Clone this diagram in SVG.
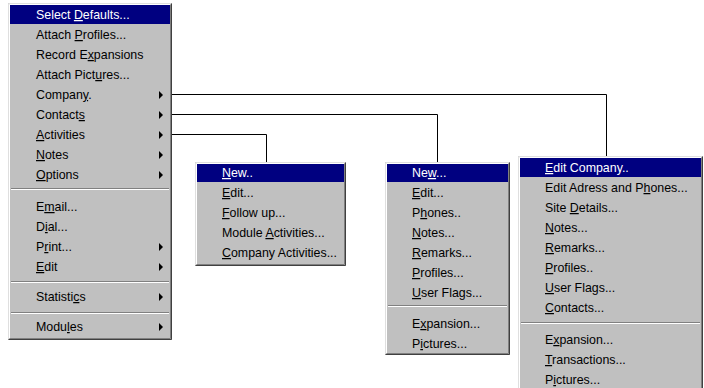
<svg xmlns="http://www.w3.org/2000/svg" width="704" height="388" viewBox="0 0 704 388">
<style>
.bg{fill:#c0c0c0}
.hl{fill:#000080}
.t{font-family:"Liberation Sans",Arial,sans-serif;font-size:12.4px;fill:#000}
.w{fill:#fff}
.u{text-decoration:underline}
.lt{stroke:#ffffff;stroke-width:1;fill:none}
.lt2{stroke:#dfdfdf;stroke-width:1;fill:none}
.dk{stroke:#808080;stroke-width:1;fill:none}
.bk{stroke:#404040;stroke-width:1;fill:none}
.conn{stroke:#000;stroke-width:1;fill:none}
.arr{fill:#000}
</style>
<rect width="704" height="388" fill="#fff"/>
<g id="connectors">
<polyline class="conn" points="172,94.5 606.5,94.5 606.5,156"/>
<polyline class="conn" points="172,114.5 437.5,114.5 437.5,162"/>
<polyline class="conn" points="172,134.5 266.5,134.5 266.5,162"/>
</g>
<g id="main-menu">
<rect class="bg" x="8" y="3" width="164" height="337"/>
<path class="lt2" d="M8.5,339.5 V3.5 H171.5"/>
<path class="lt" d="M9.5,338.5 V4.5 H170.5"/>
<path class="dk" d="M9.5,338.5 H170.5 V4.5"/>
<path class="bk" d="M8.5,339.5 H171.5 V3.5"/>
<rect class="hl" x="10" y="5" width="160" height="19"/>
<text class="t w" x="36" y="19">Select <tspan class="u">D</tspan>efaults...</text>
<text class="t" x="36" y="39">Attach <tspan class="u">P</tspan>rofiles...</text>
<text class="t" x="36" y="59">Record E<tspan class="u">x</tspan>pansions</text>
<text class="t" x="36" y="79">Attach Pict<tspan class="u">u</tspan>res...</text>
<text class="t" x="36" y="99">Compan<tspan class="u">y</tspan>.</text>
<text class="t" x="36" y="119">Contact<tspan class="u">s</tspan></text>
<text class="t" x="36" y="139"><tspan class="u">A</tspan>ctivities</text>
<text class="t" x="36" y="159"><tspan class="u">N</tspan>otes</text>
<text class="t" x="36" y="179"><tspan class="u">O</tspan>ptions</text>
<line class="dk" x1="11" y1="188.5" x2="169" y2="188.5"/>
<line class="lt" x1="11" y1="189.5" x2="169" y2="189.5"/>
<text class="t" x="36" y="211">E<tspan class="u">m</tspan>ail...</text>
<text class="t" x="36" y="231">D<tspan class="u">i</tspan>al...</text>
<text class="t" x="36" y="251">P<tspan class="u">r</tspan>int...</text>
<text class="t" x="36" y="271"><tspan class="u">E</tspan>dit</text>
<line class="dk" x1="11" y1="281.5" x2="169" y2="281.5"/>
<line class="lt" x1="11" y1="282.5" x2="169" y2="282.5"/>
<text class="t" x="36" y="301">Statisti<tspan class="u">c</tspan>s</text>
<line class="dk" x1="11" y1="312.5" x2="169" y2="312.5"/>
<line class="lt" x1="11" y1="313.5" x2="169" y2="313.5"/>
<text class="t" x="36" y="331">Modu<tspan class="u">l</tspan>es</text>
<path class="arr" d="M159,91 L163,95 L159,99 Z"/>
<path class="arr" d="M159,111 L163,115 L159,119 Z"/>
<path class="arr" d="M159,131 L163,135 L159,139 Z"/>
<path class="arr" d="M159,151 L163,155 L159,159 Z"/>
<path class="arr" d="M159,171 L163,175 L159,179 Z"/>
<path class="arr" d="M159,243 L163,247 L159,251 Z"/>
<path class="arr" d="M159,263 L163,267 L159,271 Z"/>
<path class="arr" d="M159,293 L163,297 L159,301 Z"/>
<path class="arr" d="M159,323 L163,327 L159,331 Z"/>
</g>
<g id="activities-menu">
<rect class="bg" x="195" y="162" width="151" height="104"/>
<path class="lt2" d="M195.5,265.5 V162.5 H345.5"/>
<path class="lt" d="M196.5,264.5 V163.5 H344.5"/>
<path class="dk" d="M196.5,264.5 H344.5 V163.5"/>
<path class="bk" d="M195.5,265.5 H345.5 V162.5"/>
<rect class="hl" x="197" y="164" width="147" height="18"/>
<text class="t w" x="222" y="177"><tspan class="u">N</tspan>ew..</text>
<text class="t" x="222" y="197"><tspan class="u">E</tspan>dit...</text>
<text class="t" x="222" y="217"><tspan class="u">F</tspan>ollow up...</text>
<text class="t" x="222" y="237">Module <tspan class="u">A</tspan>ctivities...</text>
<text class="t" x="222" y="257"><tspan class="u">C</tspan>ompany Activities...</text>
</g>
<g id="contacts-menu">
<rect class="bg" x="385" y="162" width="125" height="193"/>
<path class="lt2" d="M385.5,354.5 V162.5 H509.5"/>
<path class="lt" d="M386.5,353.5 V163.5 H508.5"/>
<path class="dk" d="M386.5,353.5 H508.5 V163.5"/>
<path class="bk" d="M385.5,354.5 H509.5 V162.5"/>
<rect class="hl" x="387" y="164" width="121" height="18"/>
<text class="t w" x="412" y="177">Ne<tspan class="u">w</tspan>...</text>
<text class="t" x="412" y="197"><tspan class="u">E</tspan>dit...</text>
<text class="t" x="412" y="217">P<tspan class="u">h</tspan>ones..</text>
<text class="t" x="412" y="237"><tspan class="u">N</tspan>otes...</text>
<text class="t" x="412" y="257"><tspan class="u">R</tspan>emarks...</text>
<text class="t" x="412" y="277"><tspan class="u">P</tspan>rofiles...</text>
<text class="t" x="412" y="297"><tspan class="u">U</tspan>ser Flags...</text>
<line class="dk" x1="388" y1="305.5" x2="507" y2="305.5"/>
<line class="lt" x1="388" y1="306.5" x2="507" y2="306.5"/>
<text class="t" x="412" y="328">E<tspan class="u">x</tspan>pansion...</text>
<text class="t" x="412" y="348">P<tspan class="u">i</tspan>ctures...</text>
</g>
<g id="company-menu">
<rect class="bg" x="518" y="156" width="185" height="232"/>
<path class="lt2" d="M518.5,388 V156.5 H702.5"/>
<path class="lt" d="M519.5,388 V157.5 H701.5"/>
<path class="dk" d="M701.5,157.5 V388"/>
<path class="bk" d="M702.5,156.5 V388"/>
<rect class="hl" x="520" y="158" width="181" height="19"/>
<text class="t w" x="545" y="172"><tspan class="u">E</tspan>dit Company..</text>
<text class="t" x="545" y="192">Edit Adress and P<tspan class="u">h</tspan>ones...</text>
<text class="t" x="545" y="212">Site <tspan class="u">D</tspan>etails...</text>
<text class="t" x="545" y="232"><tspan class="u">N</tspan>otes...</text>
<text class="t" x="545" y="252"><tspan class="u">R</tspan>emarks...</text>
<text class="t" x="545" y="272"><tspan class="u">P</tspan>rofiles..</text>
<text class="t" x="545" y="292"><tspan class="u">U</tspan>ser Flags...</text>
<text class="t" x="545" y="312"><tspan class="u">C</tspan>ontacts...</text>
<line class="dk" x1="521" y1="322.5" x2="700" y2="322.5"/>
<line class="lt" x1="521" y1="323.5" x2="700" y2="323.5"/>
<text class="t" x="545" y="344">E<tspan class="u">x</tspan>pansion...</text>
<text class="t" x="545" y="364"><tspan class="u">T</tspan>ransactions...</text>
<text class="t" x="545" y="384">P<tspan class="u">i</tspan>ctures...</text>
</g>
</svg>
